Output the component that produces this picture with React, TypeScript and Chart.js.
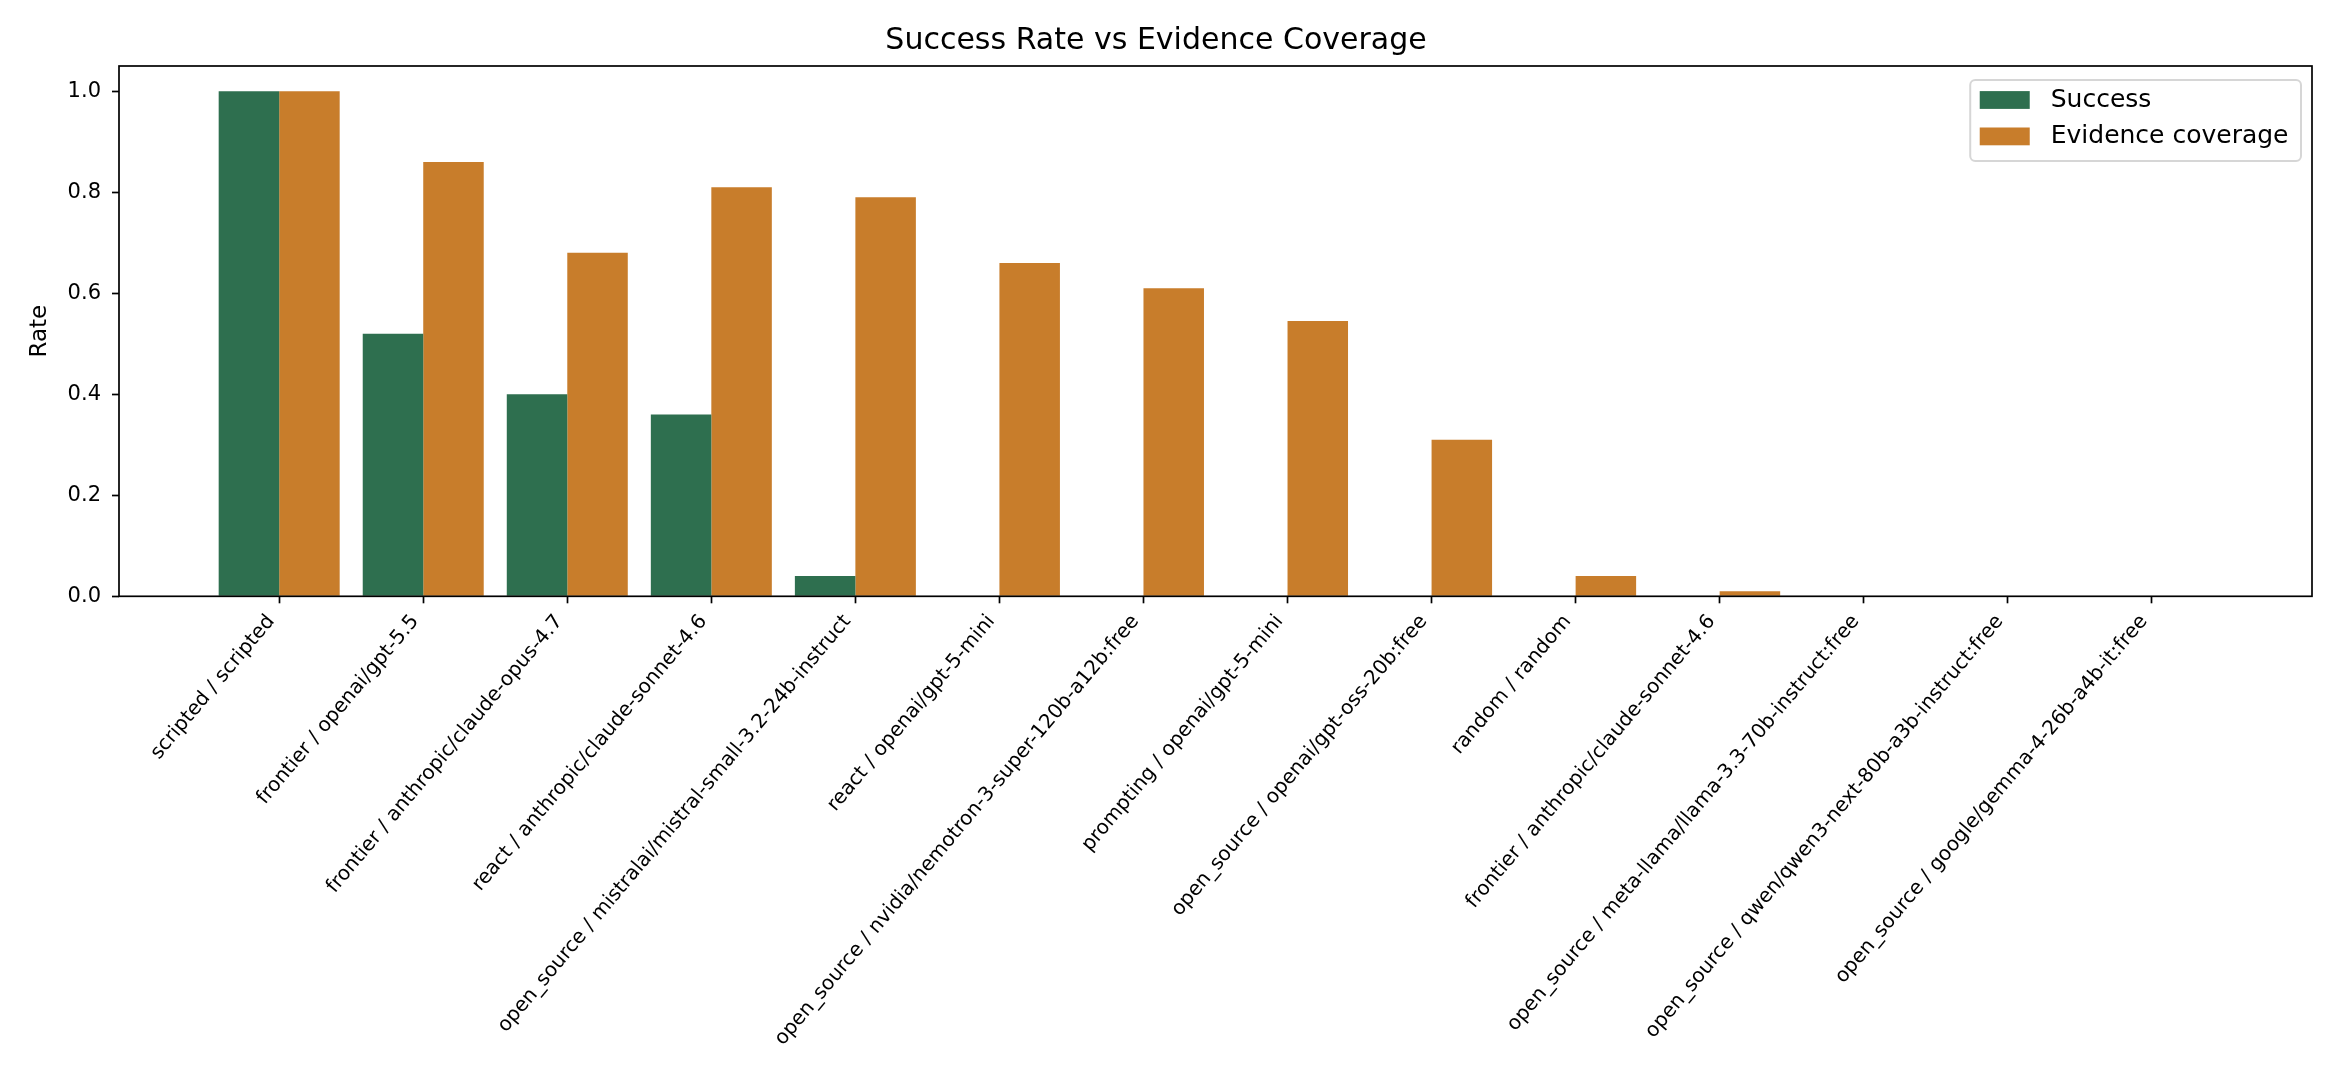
import { useEffect, useRef } from "react";
import Chart from "chart.js/auto";

const categories = [
  "scripted / scripted",
  "frontier / openai/gpt-5.5",
  "frontier / anthropic/claude-opus-4.7",
  "react / anthropic/claude-sonnet-4.6",
  "open_source / mistralai/mistral-small-3.2-24b-instruct",
  "react / openai/gpt-5-mini",
  "open_source / nvidia/nemotron-3-super-120b-a12b:free",
  "prompting / openai/gpt-5-mini",
  "open_source / openai/gpt-oss-20b:free",
  "random / random",
  "frontier / anthropic/claude-sonnet-4.6",
  "open_source / meta-llama/llama-3.3-70b-instruct:free",
  "open_source / qwen/qwen3-next-80b-a3b-instruct:free",
  "open_source / google/gemma-4-26b-a4b-it:free",
];
const success = [1.0, 0.52, 0.4, 0.36, 0.04, 0, 0, 0, 0, 0, 0, 0, 0, 0];
const coverage = [1.0, 0.86, 0.68, 0.81, 0.79, 0.66, 0.61, 0.545, 0.31, 0.04, 0.01, 0, 0, 0];
const yTicks = [0, 0.2, 0.4, 0.6, 0.8, 1.0];

const FONT = '"DejaVu Sans", sans-serif';

// matplotlib-style boxed legend in the upper right of the plot
const boxLegend = {
  id: "boxLegend",
  afterDatasetsDraw(chart: any) {
    const { ctx, chartArea } = chart;
    ctx.save();
    ctx.font = `25px ${FONT}`;
    const items = chart.data.datasets.map((ds: any) => ({ text: ds.label, color: ds.backgroundColor }));
    const textW = Math.max(...items.map((it: any) => ctx.measureText(it.text).width));
    const w = 80.5 + textW + 12.5;
    const h = 81;
    const x = chartArea.right - 11 - w;
    const y = chartArea.top + 14;
    ctx.beginPath();
    ctx.roundRect(x, y, w, h, 5);
    ctx.fillStyle = "rgba(255,255,255,0.8)";
    ctx.fill();
    ctx.lineWidth = 2;
    ctx.strokeStyle = "#d6d6d6";
    ctx.stroke();
    ctx.textBaseline = "middle";
    ctx.textAlign = "left";
    items.forEach((it: any, i: number) => {
      const cy = y + 20 + i * 36.4;
      ctx.fillStyle = it.color;
      ctx.fillRect(x + 9.5, cy - 8.9, 50, 17.8);
      ctx.fillStyle = "#000";
      ctx.fillText(it.text, x + 80.5, cy);
    });
    ctx.restore();
  },
};

// all four spines
const frame = {
  id: "frame",
  afterDatasetsDraw(chart: any) {
    const { ctx, chartArea } = chart;
    ctx.save();
    ctx.lineWidth = 1.7;
    ctx.strokeStyle = "#000";
    ctx.strokeRect(chartArea.left, chartArea.top, chartArea.right - chartArea.left, chartArea.bottom - chartArea.top);
    ctx.restore();
  },
};

export default function App() {
  const canvasRef = useRef<HTMLCanvasElement>(null);

  useEffect(() => {
    if (!canvasRef.current) return;

    const chart = new Chart(canvasRef.current, {
      type: "bar",
      data: {
        labels: categories.map((_, i) => i),
        datasets: [
          {
            label: "Success",
            data: success,
            backgroundColor: "#2E6F4F",
            borderWidth: 0,
          },
          {
            label: "Evidence coverage",
            data: coverage,
            backgroundColor: "#C87D2B",
            borderWidth: 0,
          },
        ],
      },
      options: {
        responsive: false,
        animation: false,
        devicePixelRatio: 1,
        categoryPercentage: 0.84,
        barPercentage: 1,
        layout: { padding: { left: 0, right: 28, top: 0, bottom: 0 } },
        font: { family: FONT },
        scales: {
          x: {
            type: "linear",
            offset: false,
            min: -1.112,
            max: 14.112,
            afterBuildTicks: (scale: any) => {
              scale.ticks = categories.map((_, i) => ({ value: i }));
            },
            afterFit: (scale: any) => {
              scale.height = 1080 - 596.3;
            },
            border: { display: false },
            grid: {
              offset: false,
              drawOnChartArea: false,
              drawTicks: true,
              tickLength: 7,
              tickWidth: 1.7,
              tickColor: "#000",
            },
            ticks: {
              autoSkip: false,
              minRotation: 50,
              maxRotation: 50,
              padding: 7,
              labelOffset: -8,
              color: "#000",
              font: { family: FONT, size: 20 },
              callback: (v: any) => categories[v] ?? "",
            },
          },
          y: {
            min: 0,
            max: 1.05,
            afterBuildTicks: (scale: any) => {
              scale.ticks = yTicks.map((v) => ({ value: v }));
            },
            afterFit: (scale: any) => {
              scale.width = 119;
            },
            border: { display: false },
            grid: {
              drawOnChartArea: false,
              drawTicks: true,
              tickLength: 7,
              tickWidth: 1.7,
              tickColor: "#000",
            },
            ticks: {
              padding: 11,
              color: "#000",
              font: { family: FONT, size: 21 },
              callback: (v: any) => Number(v).toFixed(1),
            },
            title: {
              display: true,
              text: "Rate",
              color: "#000",
              font: { family: FONT, size: 23 },
              padding: { top: 26, bottom: 0 },
            },
          },
        },
        plugins: {
          legend: { display: false },
          tooltip: { enabled: false },
          title: {
            display: true,
            text: "Success Rate vs Evidence Coverage",
            color: "#000",
            font: { family: FONT, size: 30, weight: "normal" },
            padding: { top: 23, bottom: 7 },
          },
        },
      },
      plugins: [frame, boxLegend],
    });

    return () => {
      chart.destroy();
    };
  }, []);

  return (
    <div style={{ position: "absolute", left: 0, top: 0, width: 2340, height: 1080, background: "#fff" }}>
      <canvas ref={canvasRef} width={2340} height={1080}></canvas>
    </div>
  );
}
